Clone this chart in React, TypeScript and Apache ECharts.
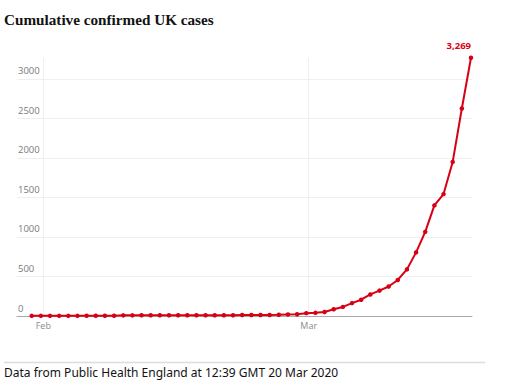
import React, { useEffect, useRef } from "react";
import * as echarts from "echarts";

const titleText = "Cumulative confirmed UK cases";
const sourceText = "Data from Public Health England at 12:39 GMT 20 Mar 2020";

const dates = [
  "2020-01-31",
  "2020-02-01", "2020-02-02", "2020-02-03", "2020-02-04", "2020-02-05", "2020-02-06", "2020-02-07",
  "2020-02-08", "2020-02-09", "2020-02-10", "2020-02-11", "2020-02-12", "2020-02-13", "2020-02-14",
  "2020-02-15", "2020-02-16", "2020-02-17", "2020-02-18", "2020-02-19", "2020-02-20", "2020-02-21",
  "2020-02-22", "2020-02-23", "2020-02-24", "2020-02-25", "2020-02-26", "2020-02-27", "2020-02-28",
  "2020-02-29",
  "2020-03-01", "2020-03-02", "2020-03-03", "2020-03-04", "2020-03-05", "2020-03-06", "2020-03-07",
  "2020-03-08", "2020-03-09", "2020-03-10", "2020-03-11", "2020-03-12", "2020-03-13", "2020-03-14",
  "2020-03-15", "2020-03-16", "2020-03-17", "2020-03-18", "2020-03-19",
];

const cases = [
  2,
  2, 2, 2, 2, 2, 3, 3,
  3, 4, 8, 8, 9, 9, 9,
  9, 9, 9, 9, 9, 9, 9,
  9, 13, 13, 13, 13, 15, 20,
  23,
  36, 40, 51, 85, 115, 163, 206,
  273, 321, 373, 456, 590, 805, 1065,
  1400, 1543, 1950, 2626, 3269,
];

const monthStarts = ["2020-02-01", "2020-03-01"];
const monthLabels = ["Feb", "Mar"];
const yTicks = [0, 500, 1000, 1500, 2000, 2500, 3000];

const DAY = 86400000;
const EPOCH = Date.UTC(2020, 1, 1);
const toDay = (s: string) => {
  const [y, m, d] = s.split("-").map(Number);
  return (Date.UTC(y, m - 1, d) - EPOCH) / DAY;
};
const MONTH_TICK_SHIFT = 0.27;
const RED = "#d70014";

export default function App() {
  const ref = useRef<HTMLDivElement>(null);

  useEffect(() => {
    document.body.style.margin = "0";
    if (!ref.current) return;
    const chart = echarts.init(ref.current, null, { renderer: "svg" });

    const monthTickVals = monthStarts.map((s) => toDay(s) + MONTH_TICK_SHIFT);
    const lastIdx = cases.length - 1;
    const seriesData = cases.map((v, i) => {
      const item: any = { value: [toDay(dates[i]), v] };
      if (i === lastIdx) {
        item.label = {
          show: true,
          position: "top",
          align: "right",
          distance: 5,
          formatter: () => v.toLocaleString("en-GB"),
          color: RED,
          fontWeight: "bold",
          fontSize: 9.5,
          fontFamily: "Open Sans",
        };
      }
      return item;
    });

    chart.setOption({
      animation: false,
      grid: { left: 17, right: 36, top: 57.7, bottom: 71, containLabel: false },
      xAxis: {
        type: "value",
        min: -2.606,
        max: 47.11,
        axisLine: { show: true, lineStyle: { color: "#a8a8a8", width: 1 } },
        axisTick: { show: false, customValues: monthTickVals },
        axisLabel: {
          customValues: monthTickVals,
          formatter: (val: number) => {
            const i = monthTickVals.findIndex((t) => Math.abs(t - val) < 1e-6);
            return i >= 0 ? monthLabels[i] : "";
          },
          color: "#8a8a8a",
          fontSize: 9,
          fontFamily: "Open Sans",
          margin: 5,
        },
        splitLine: { show: true, lineStyle: { color: "#efefef", width: 1 } },
      },
      yAxis: {
        type: "value",
        min: 0,
        max: "dataMax",
        axisLine: { show: false },
        axisTick: { show: false, customValues: yTicks },
        axisLabel: {
          customValues: yTicks,
          formatter: (val: number) => String(val),
          inside: true,
          margin: 1,
          align: "left",
          verticalAlign: "bottom",
          lineHeight: 12,
          padding: [0, 0, 2, 0],
          color: "#7a7a7a",
          fontSize: 9.5,
          fontFamily: "Open Sans",
        },
        splitLine: { show: true, lineStyle: { color: "#efefef", width: 1 } },
      },
      series: [
        {
          type: "line",
          data: seriesData,
          clip: false,
          symbol: "circle",
          symbolSize: 4.5,
          showAllSymbol: true,
          lineStyle: { color: RED, width: 2 },
          itemStyle: { color: RED },
          z: 5,
        },
      ],
      graphic: [
        {
          type: "text",
          left: 4,
          top: 12,
          style: {
            text: titleText,
            font: "bold 15.2px 'Liberation Serif'",
            fill: "#121212",
          },
        },
        {
          type: "line",
          shape: { x1: 4, y1: 362.5, x2: 485, y2: 362.5 },
          style: { stroke: "#dcdcdc", lineWidth: 1.5 },
        },
        {
          type: "text",
          left: 4,
          top: 366.5,
          style: {
            text: sourceText,
            font: "12px 'Noto Sans'",
            fill: "#121212",
          },
        },
      ],
    });

    return () => chart.dispose();
  }, []);

  return <div ref={ref} style={{ width: 508, height: 387 }} />;
}
